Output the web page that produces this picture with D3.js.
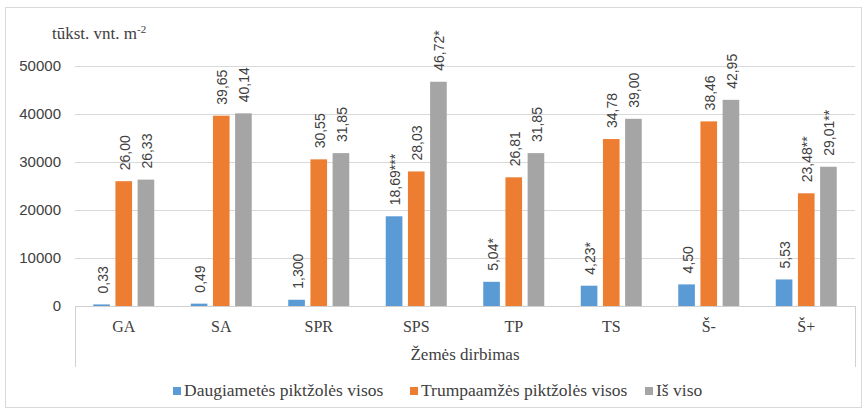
<!DOCTYPE html>
<html>
<head>
  <meta charset="utf-8">
  <title>Žemės dirbimas</title>
  <script src="https://d3js.org/d3.v7.min.js"></script>
  <style>
    body { margin: 0; padding: 0; background: #fff; }
    svg text { fill: #404040; }
    .serif { font-family: "Liberation Serif", "Times New Roman", serif; }
    .sans { font-family: "Liberation Sans", Arial, sans-serif; }
  </style>
</head>
<body>
  <div id="chart"></div>
  <script>
    // data (values in vnt. m-2, labels as printed in thousands)
    var categories = ["GA", "SA", "SPR", "SPS", "TP", "TS", "Š-", "Š+"];
    var seriesNames = ["Daugiametės piktžolės visos", "Trumpaamžės piktžolės visos", "Iš viso"];
    var perennial = [330, 490, 1300, 18690, 5040, 4230, 4500, 5530];
    var perennialLabels = ["0,33", "0,49", "1,300", "18,69***", "5,04*", "4,23*", "4,50", "5,53"];
    var annual = [26000, 39650, 30550, 28030, 26810, 34780, 38460, 23480];
    var annualLabels = ["26,00", "39,65", "30,55", "28,03", "26,81", "34,78", "38,46", "23,48**"];
    var total = [26330, 40140, 31850, 46720, 31850, 39000, 42950, 29010];
    var totalLabels = ["26,33", "40,14", "31,85", "46,72*", "31,85", "39,00", "42,95", "29,01**"];
    var yTicks = [0, 10000, 20000, 30000, 40000, 50000];

    var colors = ["#5B9BD5", "#ED7D31", "#A5A5A5"];
    var width = 868, height = 414;
    var plotLeft = 75, plotRight = 855, plotTop = 66, plotBottom = 306;

    var svg = d3.select("#chart").append("svg")
      .attr("width", width).attr("height", height);

    // outer frame
    svg.append("rect")
      .attr("x", 5.5).attr("y", 7.5).attr("width", 856).attr("height", 400)
      .attr("fill", "none").attr("stroke", "#d9d9d9");

    var x = d3.scaleBand().domain(categories).range([plotLeft, plotRight]);
    var x1 = d3.scaleBand().domain([0, 1, 2]).range([0, 61]).paddingInner(0.25);
    var y = d3.scaleLinear().domain([0, 50000]).range([plotBottom, plotTop]);

    // gridlines
    svg.append("g").selectAll("line").data(yTicks.slice(1)).enter().append("line")
      .attr("x1", plotLeft).attr("x2", plotRight)
      .attr("y1", function(d) { return Math.round(y(d)) + 0.5; })
      .attr("y2", function(d) { return Math.round(y(d)) + 0.5; })
      .attr("stroke", "#d9d9d9");

    // y tick labels
    svg.append("g").selectAll("text").data(yTicks).enter().append("text")
      .attr("class", "sans")
      .attr("x", 61).attr("y", function(d) { return y(d) + 5; })
      .attr("text-anchor", "end").style("font-size", "15px")
      .text(function(d) { return d; });

    // unit title
    var t = svg.append("text").attr("class", "serif").attr("x", 52).attr("y", 39).style("font-size", "17px");
    t.append("tspan").text("tūkst. vnt. m");
    t.append("tspan").attr("dy", -6).style("font-size", "11px").text("-2");

    var series = [
      { values: perennial, labels: perennialLabels },
      { values: annual, labels: annualLabels },
      { values: total, labels: totalLabels }
    ];

    var groups = svg.append("g").selectAll("g").data(categories).enter().append("g")
      .attr("transform", function(d) { return "translate(" + (x(d) + x.bandwidth() / 2 - 30.5) + ",0)"; });

    groups.each(function(c, i) {
      var g = d3.select(this);
      series.forEach(function(s, k) {
        var v = s.values[i];
        g.append("rect")
          .attr("x", x1(k)).attr("width", x1.bandwidth())
          .attr("y", y(v)).attr("height", plotBottom - y(v))
          .attr("fill", colors[k]);
        var lx = x1(k) + x1.bandwidth() / 2 + 6;
        var ly = y(v) - 11;
        g.append("text")
          .attr("class", "sans")
          .attr("transform", "translate(" + lx + "," + ly + ") rotate(-90)")
          .style("font-size", "14px")
          .text(s.labels[i]);
      });
    });

    // category axis
    var axis = svg.append("g").attr("stroke", "#d0d0d0").attr("fill", "none");
    axis.append("line").attr("x1", plotLeft).attr("x2", plotRight).attr("y1", plotBottom + 0.5).attr("y2", plotBottom + 0.5);
    axis.append("line").attr("x1", plotLeft + 0.5).attr("x2", plotLeft + 0.5).attr("y1", plotBottom).attr("y2", 367);
    axis.append("line").attr("x1", plotRight + 0.5).attr("x2", plotRight + 0.5).attr("y1", plotBottom).attr("y2", 367);

    svg.append("g").selectAll("text").data(categories).enter().append("text")
      .attr("class", "serif")
      .attr("x", function(d) { return x(d) + x.bandwidth() / 2; })
      .attr("y", 332).attr("text-anchor", "middle").style("font-size", "16px")
      .text(function(d) { return d; });

    svg.append("text").attr("class", "serif").attr("x", (plotLeft + plotRight) / 2).attr("y", 360)
      .attr("text-anchor", "middle").style("font-size", "17px").text("Žemės dirbimas");

    // legend
    var legendX = [173, 410, 645];
    var legend = svg.append("g").selectAll("g").data(seriesNames).enter().append("g")
      .attr("transform", function(d, i) { return "translate(" + legendX[i] + ",387)"; });
    legend.append("rect").attr("width", 8).attr("height", 8).attr("y", 0)
      .attr("fill", function(d, i) { return colors[i]; });
    legend.append("text").attr("class", "serif").attr("x", 11).attr("y", 9).style("font-size", "17.5px")
      .text(function(d) { return d; });
  </script>
</body>
</html>
